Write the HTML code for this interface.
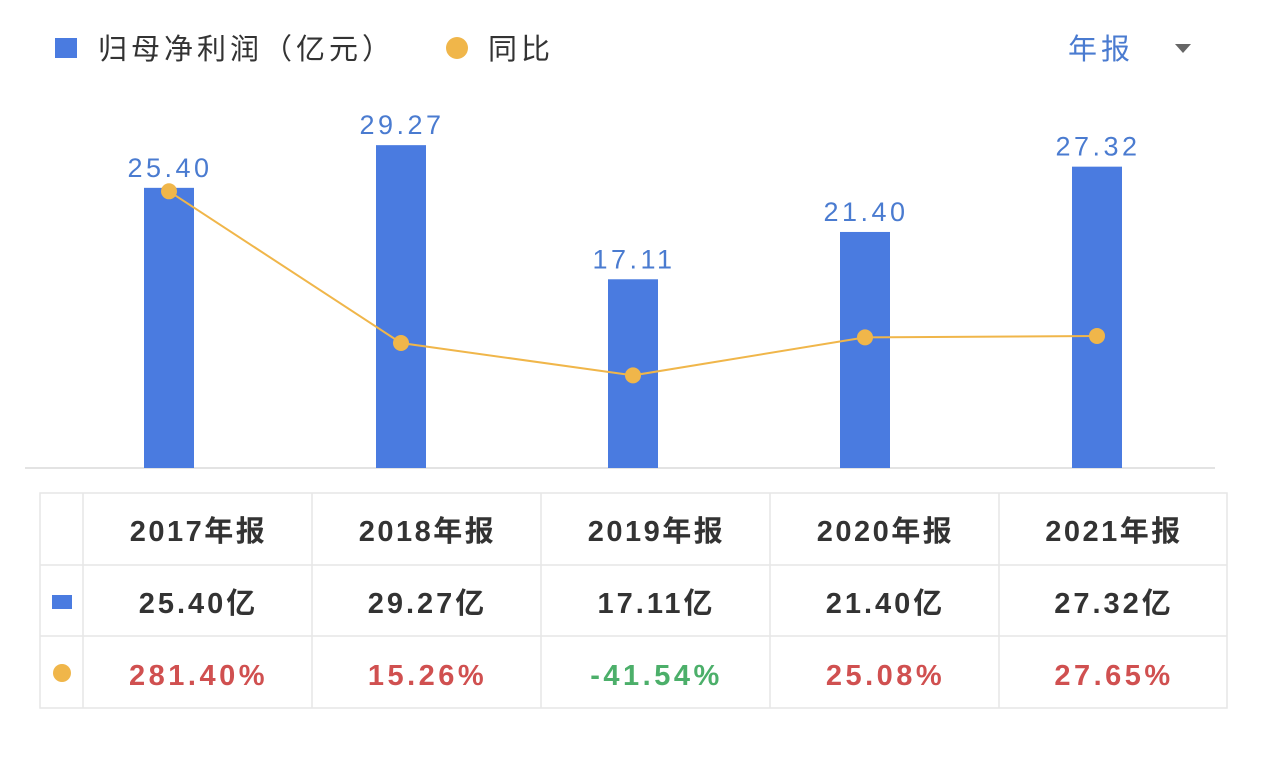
<!DOCTYPE html>
<html><head><meta charset="utf-8"><style>
body{margin:0;width:1269px;height:764px;background:#fff;overflow:hidden;font-family:"Liberation Sans","Noto Sans CJK SC",sans-serif}
svg{position:absolute;left:0;top:0}
</style></head><body>
<svg width="1269" height="764" id="chart">
<rect x="55" y="38" width="22" height="20" fill="#4a7be0"/>
<text x="98" y="59" font-size="29" fill="#333" letter-spacing="4">归母净利润（亿元）</text>
<circle cx="457" cy="48" r="11" fill="#f0b64a"/>
<text x="488" y="59" font-size="29" fill="#333" letter-spacing="4">同比</text>
<text x="1068" y="59" font-size="29" fill="#4a7bd0" letter-spacing="4">年报</text>
<path d="M1175 44 L1191 44 L1183 53 Z" fill="#666"/>
<line x1="25" y1="468" x2="1215" y2="468" stroke="#e3e3e3" stroke-width="2"/>
<g id="marks"></g>
<g id="table"></g>
</svg>
<script>
const categories=["2017年报","2018年报","2019年报","2020年报","2021年报"];
const profits=[25.40,29.27,17.11,21.40,27.32];
const yoy=[281.40,15.26,-41.54,25.08,27.65];
const NS="http://www.w3.org/2000/svg";
function xPos(i){return 169+i*232;}
function yBar(v){return 468-v*11.03;}
function yLine(v){return 351.7-v*0.57;}
function mk(tag,attrs,parent,text){const e=document.createElementNS(NS,tag);for(const k in attrs)e.setAttribute(k,attrs[k]);if(text!=null)e.textContent=text;parent.appendChild(e);return e;}
const g=document.getElementById('marks');
profits.forEach((v,i)=>{
 const b=mk('rect',{x:xPos(i)-25,y:yBar(v),width:50,height:468-yBar(v),fill:'#4a7be0'},g);
 
 
 const t=mk('text',{x:xPos(i)+1,y:yBar(v)-11,'font-size':27,'font-weight':'500',fill:'#4a7bd0','text-anchor':'middle','letter-spacing':'3.5'},g,v.toFixed(2));
 
 
});
const pts=yoy.map((v,i)=>xPos(i)+','+yLine(v)).join(' ');
const pl=mk('polyline',{points:pts,fill:'none',stroke:'#f0b64a','stroke-width':2},g);


yoy.forEach((v,i)=>{
 const c=mk('circle',{cx:xPos(i),cy:yLine(v),r:8,fill:'#f0b64a'},g);
 
 
});
const tg=document.getElementById('table');
const colX=[40,83,312,541,770,999,1227];const rowY=[493,565,636,708];
const f=mk('rect',{x:40,y:493,width:1187,height:215,fill:'none',stroke:'#e6e6e6','stroke-width':1.5},tg);


colX.slice(1,-1).forEach(x=>{mk('line',{x1:x,y1:493,x2:x,y2:708,stroke:'#e6e6e6','stroke-width':1.5},tg);});
rowY.slice(1,-1).forEach(y=>{mk('line',{x1:40,y1:y,x2:1227,y2:y,stroke:'#e6e6e6','stroke-width':1.5},tg);});
const sq=mk('rect',{x:52,y:595,width:20,height:14,fill:'#4a7be0'},tg);


const cc=mk('circle',{cx:62,cy:673,r:9,fill:'#f0b64a'},tg);


categories.forEach((c,i)=>{
 const cx=(colX[i+1]+colX[i+2])/2+1;
 const h=mk('text',{x:cx,y:541,'font-size':29,'font-weight':'bold',fill:'#333','text-anchor':'middle','letter-spacing':'2.5'},tg,c);
 
 
 const p=mk('text',{x:cx,y:613,'font-size':29,'font-weight':'bold',fill:'#333','text-anchor':'middle','letter-spacing':'3'},tg,profits[i].toFixed(2)+'亿');
 
 
 const y=mk('text',{x:cx,y:685,'font-size':29,'font-weight':'bold',fill:yoy[i]<0?'#4caf6a':'#d05050','text-anchor':'middle','letter-spacing':'3.5'},tg,yoy[i].toFixed(2)+'%');
 
 
});
</script>
</body></html>
